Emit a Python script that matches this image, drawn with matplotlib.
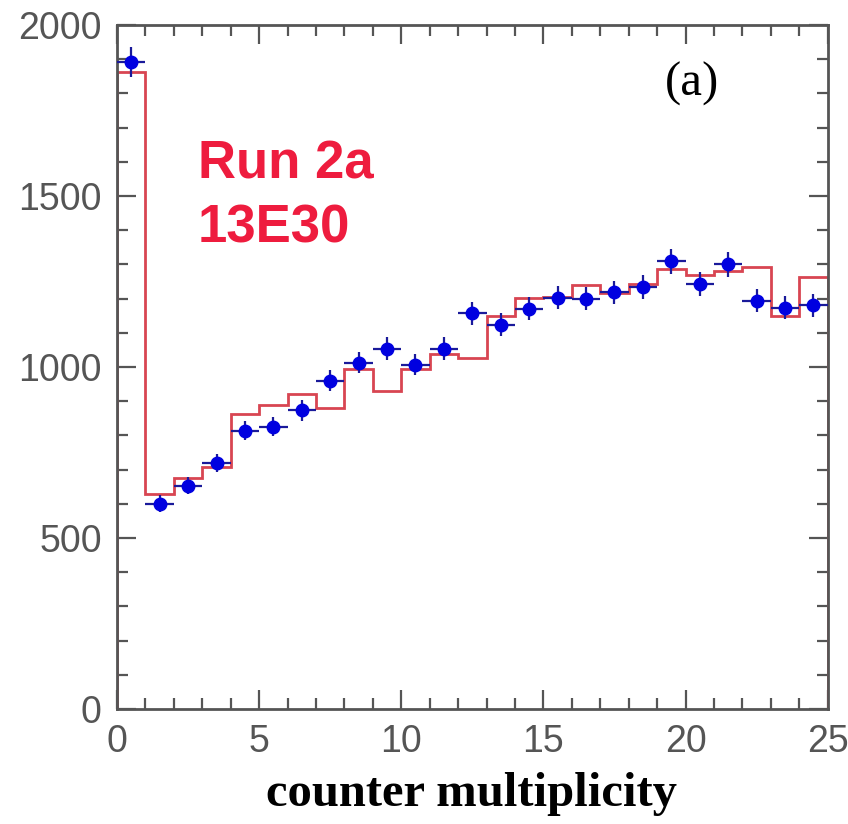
import numpy as np
import matplotlib.pyplot as plt
from matplotlib.ticker import MultipleLocator

# bin edges / centres for counter multiplicity
bin_edges = list(range(0, 26))
bin_centres = [i + 0.5 for i in range(25)]

# data points (blue)
data_counts = [1892, 600, 653, 720, 814, 826, 873, 960, 1013, 1054,
               1007, 1054, 1157, 1124, 1171, 1203, 1200, 1218, 1233, 1309,
               1244, 1300, 1194, 1174, 1180]

# MC histogram (red)
mc_counts = [1862, 630, 676, 708, 864, 890, 922, 881, 993, 931,
             993, 1037, 1025, 1148, 1203, 1206, 1241, 1215, 1244, 1288,
             1268, 1280, 1291, 1148, 1262]

run_label = "Run 2a\n13E30"
panel_label = "(a)"
x_label = "counter multiplicity"

fig = plt.figure(figsize=(8.48, 8.24), dpi=100)
ax = fig.add_axes([0.138, 0.1396, 0.838, 0.830])

# histogram as steps
ax.stairs(mc_counts, bin_edges, color='#d84552', lw=2.0, zorder=2)

yerr = np.sqrt(data_counts)
ax.errorbar(bin_centres, data_counts, xerr=0.5, yerr=yerr, fmt='o',
            color='#0000e0', ms=9, ecolor='#1a1a9a', elinewidth=1.6,
            capsize=0, zorder=3)

ax.set_xlim(0, 25)
ax.set_ylim(0, 2000)
ax.xaxis.set_major_locator(MultipleLocator(5))
ax.xaxis.set_minor_locator(MultipleLocator(1))
ax.yaxis.set_major_locator(MultipleLocator(500))
ax.yaxis.set_minor_locator(MultipleLocator(100))

spine_col = '#555555'
for sp in ax.spines.values():
    sp.set_color(spine_col)
    sp.set_linewidth(2.0)
ax.tick_params(which='both', direction='in', top=True, right=True,
               color=spine_col, width=1.6)
ax.tick_params(which='major', length=14)
ax.tick_params(which='minor', length=8)
ax.tick_params(axis='x', which='major', pad=11, labelsize=27, labelcolor='#555555')
ax.tick_params(axis='y', which='major', pad=11, labelsize=27, labelcolor='#555555')
for lab in ax.get_xticklabels() + ax.get_yticklabels():
    lab.set_fontfamily('Liberation Sans')

fig.text(198 / 848, 1 - 243 / 824, run_label, color='#ee1c3e', fontsize=38,
         fontweight='bold', family='Liberation Sans', ha='left', va='baseline',
         linespacing=1.37)
ax.text(692 / 848, 1 - 84 / 824, panel_label, transform=fig.transFigure,
        fontsize=35, family='Liberation Serif', ha='center', va='center')
fig.text(471 / 848, 1 - 794 / 824, x_label, fontsize=35, fontweight='bold',
         family='Liberation Serif', ha='center', va='center')

fig.savefig('out.png', dpi=100)
